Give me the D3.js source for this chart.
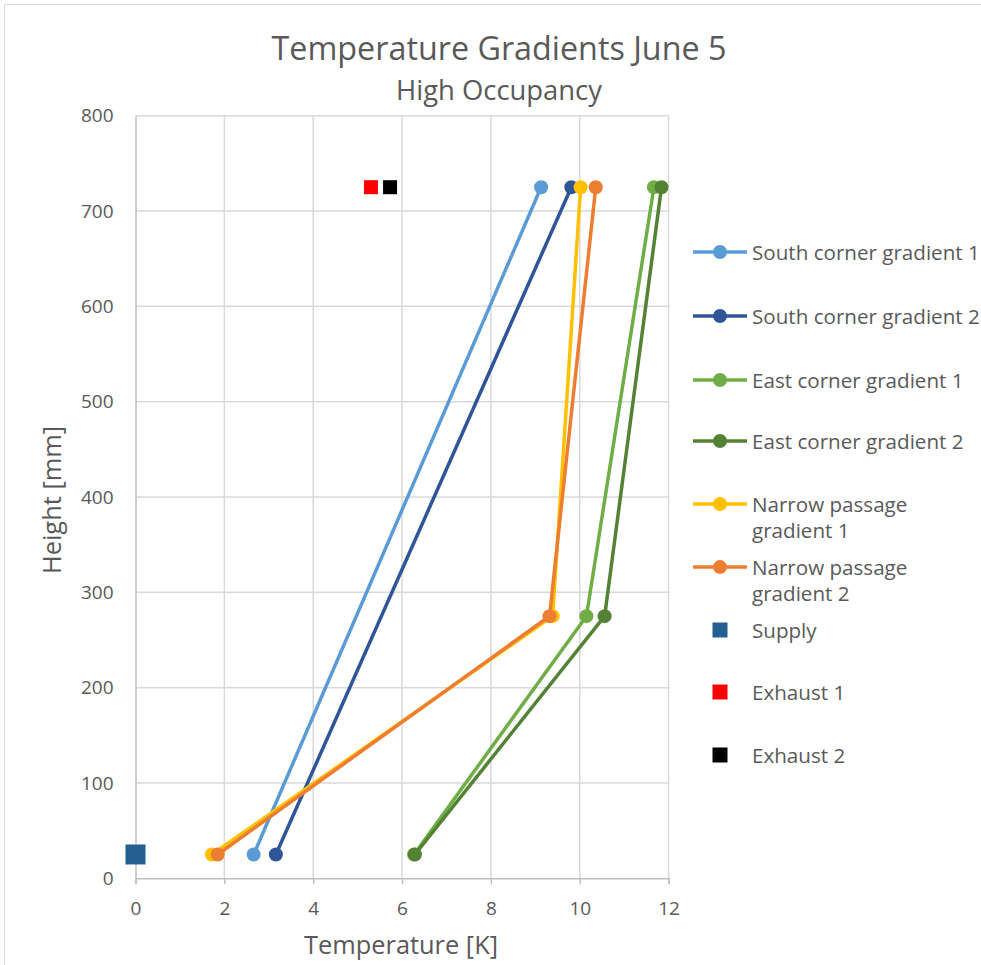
<!DOCTYPE html>
<html>
<head>
<meta charset="utf-8">
<script src="https://cdn.jsdelivr.net/npm/d3@7/dist/d3.min.js"></script>
<style>
  html, body { margin: 0; padding: 0; background: #fff; }
  svg text { font-family: "Open Sans", "Noto Sans", sans-serif; fill: #595959; }
</style>
</head>
<body>
<svg id="chart" width="981" height="965"></svg>
<script>
// Measured heights (mm) and temperature differences (K)
const gradientNames = [
  "South corner gradient 1", "South corner gradient 2",
  "East corner gradient 1", "East corner gradient 2",
  "Narrow passage gradient 1", "Narrow passage gradient 2"
];
const southHeights = [25, 725];
const south1 = [2.66, 9.13];
const south2 = [3.16, 9.81];
const threeHeights = [25, 275, 725];
const east1 = [6.27, 10.15, 11.67];
const east2 = [6.29, 10.56, 11.84];
const narrow1 = [1.72, 9.39, 10.02];
const narrow2 = [1.85, 9.32, 10.36];
const supply = [[0, 25]];
const exhaust1 = [[5.30, 725]];
const exhaust2 = [[5.73, 725]];
const xTicks = [0, 2, 4, 6, 8, 10, 12];
const yTicks = [0, 100, 200, 300, 400, 500, 600, 700, 800];

const lineSeries = [
  { name: gradientNames[0], heights: southHeights, temps: south1, color: "#5B9BD5" },
  { name: gradientNames[1], heights: southHeights, temps: south2, color: "#2F5597" },
  { name: gradientNames[2], heights: threeHeights, temps: east1, color: "#70AD47" },
  { name: gradientNames[3], heights: threeHeights, temps: east2, color: "#548235" },
  { name: gradientNames[4], heights: threeHeights, temps: narrow1, color: "#FFC000" },
  { name: gradientNames[5], heights: threeHeights, temps: narrow2, color: "#ED7D31" }
];
const squareSeries = [
  { name: "Supply", pts: supply, color: "#255E91", size: 20 },
  { name: "Exhaust 1", pts: exhaust1, color: "#FF0000", size: 14 },
  { name: "Exhaust 2", pts: exhaust2, color: "#000000", size: 14 }
];

const svg = d3.select("#chart");

// chart frame
svg.append("path")
  .attr("d", "M4.5,965 V4.5 H981")
  .attr("fill", "none").attr("stroke", "#d9d9d9").attr("stroke-width", 1);

const x = d3.scaleLinear().domain([0, 12]).range([135.5, 668.6]);
const y = d3.scaleLinear().domain([0, 800]).range([878.3, 115.7]);

// gridlines
svg.append("g").selectAll("line").data(xTicks.slice(1)).join("line")
  .attr("x1", d => x(d)).attr("x2", d => x(d))
  .attr("y1", y(0)).attr("y2", y(800))
  .attr("stroke", "#d9d9d9").attr("stroke-width", 1.5);
svg.append("g").selectAll("line").data(yTicks.slice(1)).join("line")
  .attr("x1", x(0)).attr("x2", x(12))
  .attr("y1", d => y(d)).attr("y2", d => y(d))
  .attr("stroke", "#d9d9d9").attr("stroke-width", 1.5);

// x axis
const xAxis = svg.append("g")
  .attr("transform", `translate(0,${y(0)})`)
  .call(d3.axisBottom(x).tickValues(xTicks).tickSize(6).tickPadding(17).tickFormat(d3.format("d")));
xAxis.select(".domain").attr("stroke", "#bfbfbf").attr("stroke-width", 1.5);
xAxis.selectAll(".tick line").attr("stroke", "#bfbfbf").attr("stroke-width", 1.5);
xAxis.selectAll(".tick text").attr("font-size", 19).style("fill", "#595959");

// y axis
const yAxis = svg.append("g")
  .attr("transform", `translate(${x(0)},0)`)
  .call(d3.axisLeft(y).tickValues(yTicks).tickSize(0).tickPadding(22).tickFormat(d3.format("d")));
yAxis.select(".domain").attr("stroke", "#bfbfbf").attr("stroke-width", 1.5);
yAxis.selectAll(".tick text").attr("font-size", 19).style("fill", "#595959");

// titles
svg.append("text").attr("x", 499).attr("y", 60).attr("text-anchor", "middle")
  .attr("font-size", 32.3).text("Temperature Gradients June 5");
svg.append("text").attr("x", 499).attr("y", 100).attr("text-anchor", "middle")
  .attr("font-size", 27.4).text("High Occupancy");
svg.append("text").attr("x", 401).attr("y", 954).attr("text-anchor", "middle")
  .attr("font-size", 25.4).text("Temperature [K]");
svg.append("text").attr("transform", "translate(61,500) rotate(-90)").attr("text-anchor", "middle")
  .attr("font-size", 25.4).text("Height [mm]");

// gradient lines with round markers
const line = d3.line().x(d => x(d[0])).y(d => y(d[1]));
lineSeries.forEach(s => {
  const pts = s.temps.map((t, i) => [t, s.heights[i]]);
  const g = svg.append("g");
  g.append("path").datum(pts).attr("d", line)
    .attr("fill", "none").attr("stroke", s.color).attr("stroke-width", 3.5)
    .attr("stroke-linejoin", "round");
  g.selectAll("circle").data(pts).join("circle")
    .attr("cx", d => x(d[0])).attr("cy", d => y(d[1])).attr("r", 7)
    .attr("fill", s.color);
});

// supply / exhaust points
squareSeries.forEach(s => {
  svg.append("g").selectAll("rect").data(s.pts).join("rect")
    .attr("x", d => x(d[0]) - s.size / 2).attr("y", d => y(d[1]) - s.size / 2)
    .attr("width", s.size).attr("height", s.size).attr("fill", s.color);
});

// legend
const legendRows = [
  { lines: ["South corner gradient 1"], y: 252 },
  { lines: ["South corner gradient 2"], y: 316 },
  { lines: ["East corner gradient 1"], y: 380 },
  { lines: ["East corner gradient 2"], y: 441 },
  { lines: ["Narrow passage", "gradient 1"], y: 504 },
  { lines: ["Narrow passage", "gradient 2"], y: 567 },
  { lines: ["Supply"], y: 630 },
  { lines: ["Exhaust 1"], y: 692 },
  { lines: ["Exhaust 2"], y: 755 }
];
const legend = svg.append("g");
legendRows.forEach((row, i) => {
  const g = legend.append("g").attr("transform", `translate(0,${row.y})`);
  if (i < lineSeries.length) {
    const c = lineSeries[i].color;
    g.append("line").attr("x1", 693).attr("x2", 747).attr("y1", 0).attr("y2", 0)
      .attr("stroke", c).attr("stroke-width", 3.5);
    g.append("circle").attr("cx", 720).attr("cy", 0).attr("r", 7).attr("fill", c);
  } else {
    const s = squareSeries[i - lineSeries.length];
    g.append("rect").attr("x", 712.5).attr("y", -7.5).attr("width", 15).attr("height", 15)
      .attr("fill", s.color);
  }
  row.lines.forEach((t, j) => {
    g.append("text").attr("x", 752).attr("y", 7.5 + j * 26).attr("font-size", 20.6).text(t);
  });
});
</script>
</body>
</html>
